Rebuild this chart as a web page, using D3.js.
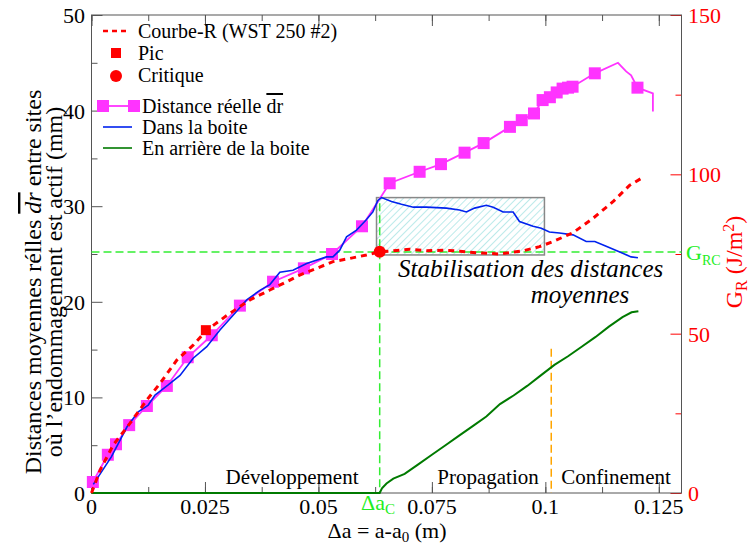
<!DOCTYPE html>
<html>
<head>
<meta charset="utf-8">
<script src="https://cdn.jsdelivr.net/npm/d3@7"></script>
<style>
  body { margin: 0; background: #fff; }
  svg text { font-family: "Liberation Serif", "Times New Roman", Times, "DejaVu Serif", serif; }
</style>
</head>
<body>
<div id="chart"></div>
<script>
// Distance réelle (magenta), left axis (mm)
const distX = [0.0003, 0.0036, 0.0054, 0.0083, 0.0122, 0.0166, 0.0212, 0.0265, 0.0327, 0.0400, 0.0468, 0.0530, 0.0596, 0.0657,
  0.0723, 0.0770, 0.0822, 0.0864, 0.0922, 0.0948, 0.0975, 0.0994, 0.1010, 0.1025, 0.1038, 0.1050, 0.1060, 0.1109, 0.1160, 0.1178, 0.1189, 0.1203, 0.1237, 0.1237];
const distY = [1.15, 4.0, 5.1, 7.1, 9.1, 11.2, 14.2, 16.5, 19.6, 22.1, 23.5, 25.0, 27.9, 32.4,
  33.6, 34.4, 35.6, 36.6, 38.3, 39.0, 39.7, 41.1, 41.4, 41.9, 42.3, 42.4, 42.5, 43.9, 45.0, 44.1, 43.7, 42.4, 41.8, 39.9];
const distMarked = [1,1,1,1,1,1,1,1,1,1,1,1,1,1, 1,1,1,1,1,1,1,1,1,1,1,1,1,1,0,0,0,1,0,0];

// Dans la boite (blue), left axis
const boxX = [0.0004, 0.0044, 0.0078, 0.0103, 0.0125, 0.0140, 0.0169, 0.0195, 0.0224, 0.0254, 0.0283, 0.0312, 0.0342, 0.0371, 0.0393, 0.0415,
  0.0444, 0.0474, 0.0518, 0.0532, 0.0547, 0.0562, 0.0584, 0.0606, 0.0620, 0.0631, 0.0639, 0.0661, 0.0683, 0.0709, 0.0738, 0.0782, 0.0811,
  0.0826, 0.0844, 0.0870, 0.0885, 0.0907, 0.0929, 0.0943, 0.0973, 0.0991, 0.1009, 0.1031, 0.1061, 0.1090, 0.1109, 0.1134, 0.1164, 0.1189, 0.1204];
const boxY = [0.9, 3.8, 6.9, 8.5, 9.2, 10.25, 11.3, 12.3, 14.1, 15.3, 17.05, 18.6, 20.2, 21.2, 21.8, 23.1,
  23.3, 24.0, 24.7, 24.7, 25.4, 26.8, 27.5, 28.6, 29.4, 30.6, 30.9, 30.5, 30.2, 29.9, 29.9, 29.8, 29.6,
  29.4, 29.8, 30.1, 29.9, 29.4, 29.4, 28.4, 27.9, 27.7, 27.3, 27.2, 27.0, 26.3, 26.3, 25.8, 25.2, 24.7, 24.6];

// En arrière de la boite (green), left axis
const behindX = [0, 0.0635, 0.0640, 0.0650, 0.0665, 0.0690, 0.0720, 0.0750, 0.0780, 0.0810, 0.0840, 0.0870, 0.0900, 0.0930,
  0.0960, 0.0990, 0.1020, 0.1050, 0.1080, 0.1110, 0.1140, 0.1170, 0.1190, 0.1205];
const behindY = [0, 0, 0.5, 1.0, 1.5, 2.0, 3.0, 4.0, 5.0, 6.0, 7.0, 8.0, 9.3, 10.2,
  11.2, 12.3, 13.4, 14.3, 15.3, 16.3, 17.4, 18.4, 18.9, 19.0];

// Courbe-R (red dashed), right axis (J/m²)
const curveX = [0, 0.0019, 0.0048, 0.0085, 0.0122, 0.0151, 0.0188, 0.0224, 0.0254, 0.0300, 0.0349, 0.0393, 0.0430, 0.0459, 0.0496,
  0.0532, 0.0569, 0.0606, 0.0635, 0.0664, 0.0701, 0.0738, 0.0775, 0.0811, 0.0848, 0.0899, 0.0951, 0.0987, 0.1017, 0.1061, 0.1105,
  0.1149, 0.1186, 0.1211];
const curveG = [0, 7.2, 15.1, 21.9, 29.2, 34.4, 41.7, 46.4, 51.1, 55.9, 60.6, 63.7, 66.3, 68.4, 70.5,
  72.6, 73.6, 74.7, 75.7, 76.0, 76.5, 76.0, 76.2, 75.9, 75.4, 75.0, 76.0, 77.3, 78.9, 81.7, 86.2,
  91.4, 96.6, 98.7];

const pic = [0.0252, 51.1];
const critique = [0.0635, 75.7];
const gRC = 75.6;          // J/m²
const deltaAC = 0.0635;    // m
const confineStart = 0.1013;
const boxRange = { x: [0.0628, 0.0998], y: [24.9, 30.9] };

const xTicks = [0, 0.025, 0.05, 0.075, 0.1, 0.125];
const xTickLabels = ["0", "0.025", "0.05", "0.075", "0.1", "0.125"];
const yTicks = [0, 10, 20, 30, 40, 50];
const gTicks = [0, 50, 100, 150];
const phases = ["Développement", "Propagation", "Confinement"];

const W = 750, H = 546;
const m = { left: 91.5, right: 681.5, top: 15, bottom: 493 };
const FS = 20;      // legend
const PHASE = 21;   // phase labels
const TICK = 22;    // tick labels
const TITLE = 24;   // axis titles
const NOTE = 25;    // box annotation

const svg = d3.select("#chart").append("svg")
  .attr("width", W).attr("height", H);

const x = d3.scaleLinear().domain([0, 0.13]).range([m.left, m.right]);
const y = d3.scaleLinear().domain([0, 50]).range([m.bottom, m.top]);
const yG = d3.scaleLinear().domain([0, 150]).range([m.bottom, m.top]);

// hatch pattern for the box
const defs = svg.append("defs");
const pat = defs.append("pattern")
  .attr("id", "hatch").attr("patternUnits", "userSpaceOnUse")
  .attr("width", 5).attr("height", 5)
  .attr("patternTransform", "rotate(45)");
pat.append("line").attr("x1", 0).attr("y1", 0).attr("x2", 0).attr("y2", 5)
  .attr("stroke", "#8fdcdc").attr("stroke-width", 1.2);

// axes (ticks inward)
const minorX = d3.range(0, 0.1301, 0.0125);
svg.append("g").attr("transform", `translate(0,${m.bottom})`)
  .call(d3.axisTop(x).tickValues(minorX).tickSize(6).tickFormat(""));
svg.append("g").attr("transform", `translate(0,${m.bottom})`)
  .call(d3.axisTop(x).tickValues(xTicks).tickSize(11).tickFormat(""));
svg.append("g").attr("transform", `translate(0,${m.top})`)
  .call(d3.axisBottom(x).tickValues(minorX).tickSize(6).tickFormat(""));
svg.append("g").attr("transform", `translate(0,${m.top})`)
  .call(d3.axisBottom(x).tickValues(xTicks).tickSize(11).tickFormat(""));
svg.append("g").attr("transform", `translate(${m.left},0)`)
  .call(d3.axisRight(y).tickValues(d3.range(5, 50, 10)).tickSize(6).tickFormat(""));
svg.append("g").attr("transform", `translate(${m.left},0)`)
  .call(d3.axisRight(y).tickValues(yTicks).tickSize(11).tickFormat(""));
const rMinor = svg.append("g").attr("transform", `translate(${m.right},0)`)
  .call(d3.axisLeft(yG).tickValues([25, 75, 125]).tickSize(6).tickFormat(""));
const rMajor = svg.append("g").attr("transform", `translate(${m.right},0)`)
  .call(d3.axisLeft(yG).tickValues(gTicks).tickSize(11).tickFormat(""));
svg.selectAll(".domain").remove();
svg.selectAll(".tick line").attr("stroke", "#555");
rMinor.selectAll(".tick line").attr("stroke", "red");
rMajor.selectAll(".tick line").attr("stroke", "red");

// tick labels
svg.append("g").selectAll("text").data(xTicks).join("text")
  .attr("x", d => x(d)).attr("y", 514).attr("text-anchor", "middle")
  .attr("font-size", TICK).text((d, i) => xTickLabels[i]);
svg.append("g").selectAll("text").data(yTicks).join("text")
  .attr("x", 85).attr("y", d => y(d) + 8).attr("text-anchor", "end")
  .attr("font-size", TICK).text(d => d);
svg.append("g").selectAll("text").data(gTicks).join("text")
  .attr("x", 688).attr("y", d => yG(d) + 8).attr("text-anchor", "start")
  .attr("font-size", TICK).attr("fill", "red").text(d => d);

// frame
svg.append("rect").attr("x", m.left).attr("y", m.top)
  .attr("width", m.right - m.left).attr("height", m.bottom - m.top)
  .attr("fill", "none").attr("stroke", "#555").attr("stroke-width", 1);

// hatched box
svg.append("rect")
  .attr("x", x(boxRange.x[0])).attr("y", y(boxRange.y[1]))
  .attr("width", x(boxRange.x[1]) - x(boxRange.x[0]))
  .attr("height", y(boxRange.y[0]) - y(boxRange.y[1]))
  .attr("fill", "url(#hatch)").attr("stroke", "#888").attr("stroke-width", 1.5);

// reference lines
svg.append("line").attr("x1", m.left).attr("x2", m.right)
  .attr("y1", yG(gRC)).attr("y2", yG(gRC))
  .attr("stroke", "#33ee33").attr("stroke-width", 1.5).attr("stroke-dasharray", "8,4");
svg.append("line").attr("x1", x(deltaAC)).attr("x2", x(deltaAC))
  .attr("y1", y(30.3)).attr("y2", m.bottom)
  .attr("stroke", "#33ee33").attr("stroke-width", 1.5).attr("stroke-dasharray", "8,4");
svg.append("line").attr("x1", x(confineStart)).attr("x2", x(confineStart))
  .attr("y1", y(15.1)).attr("y2", m.bottom)
  .attr("stroke", "#ffa500").attr("stroke-width", 1.5).attr("stroke-dasharray", "8,4");

// series
const lineL = d3.line().x(d => x(d[0])).y(d => y(d[1]));
const lineG = d3.line().x(d => x(d[0])).y(d => yG(d[1]));

svg.append("path").datum(d3.zip(behindX, behindY))
  .attr("d", lineL).attr("fill", "none").attr("stroke", "#007a00").attr("stroke-width", 2);

const dist = d3.zip(distX, distY);
svg.append("path").datum(dist)
  .attr("d", lineL).attr("fill", "none").attr("stroke", "#ff33ff").attr("stroke-width", 1.8);
svg.append("g").selectAll("rect").data(dist.filter((d, i) => distMarked[i])).join("rect")
  .attr("x", d => x(d[0]) - 6).attr("y", d => y(d[1]) - 6)
  .attr("width", 12).attr("height", 12).attr("fill", "#ff33ff");

svg.append("path").datum(d3.zip(boxX, boxY))
  .attr("d", lineL).attr("fill", "none").attr("stroke", "#0022ee").attr("stroke-width", 1.6);

svg.append("path").datum(d3.zip(curveX, curveG))
  .attr("d", lineG).attr("fill", "none").attr("stroke", "red")
  .attr("stroke-width", 3).attr("stroke-dasharray", "6,5");

svg.append("rect").attr("x", x(pic[0]) - 5).attr("y", yG(pic[1]) - 5)
  .attr("width", 10).attr("height", 10).attr("fill", "red");
svg.append("circle").attr("cx", x(critique[0])).attr("cy", yG(critique[1]))
  .attr("r", 6).attr("fill", "red");

// annotations
svg.append("text").attr("x", 398).attr("y", 277).attr("font-size", NOTE)
  .attr("font-style", "italic").text("Stabilisation des distances");
svg.append("text").attr("x", 580).attr("y", 303).attr("font-size", NOTE)
  .attr("font-style", "italic").attr("text-anchor", "middle").text("moyennes");

const phaseX = [292, 488, 616];
svg.append("g").selectAll("text").data(phases).join("text")
  .attr("x", (d, i) => phaseX[i]).attr("y", 484).attr("text-anchor", "middle")
  .attr("font-size", PHASE).text(d => d);

const grcT = svg.append("text").attr("x", 686).attr("y", yG(gRC) + 8)
  .attr("font-size", 22).attr("fill", "#22ee22");
grcT.append("tspan").text("G");
grcT.append("tspan").attr("font-size", 14).attr("dy", 5).text("RC");

const dacT = svg.append("text").attr("x", 378).attr("y", 510)
  .attr("text-anchor", "middle").attr("font-size", TICK).attr("fill", "#22ee22");
dacT.append("tspan").text("Δa");
dacT.append("tspan").attr("font-size", 15).attr("dy", 4).text("C");

// axis titles
const xt = svg.append("text").attr("x", 387).attr("y", 538)
  .attr("text-anchor", "middle").attr("font-size", 22);
xt.append("tspan").text("Δa = a-a");
xt.append("tspan").attr("font-size", 15).attr("dy", 4).text("0");
xt.append("tspan").attr("dy", -4).text(" (m)");

const yt1 = svg.append("text").attr("transform", "translate(41,282) rotate(-90)")
  .attr("text-anchor", "middle").attr("font-size", TITLE);
yt1.append("tspan").text("Distances moyennes rélles ");
yt1.append("tspan").attr("font-style", "italic").style("text-decoration", "overline").text("dr");
yt1.append("tspan").text(" entre sites");
svg.append("text").attr("transform", "translate(62,282) rotate(-90)")
  .attr("text-anchor", "middle").attr("font-size", TITLE)
  .text("où l’endommagement est actif (mm)");

const yt2 = svg.append("text").attr("transform", "translate(742,262) rotate(-90)")
  .attr("text-anchor", "middle").attr("font-size", TITLE).attr("fill", "red");
yt2.append("tspan").text("G");
yt2.append("tspan").attr("font-size", 16).attr("dy", 5).text("R");
yt2.append("tspan").attr("dy", -5).text(" (J/m");
yt2.append("tspan").attr("font-size", 16).attr("dy", -8).text("2");
yt2.append("tspan").attr("dy", 8).text(")");

// legend
const lg = svg.append("g").attr("font-size", FS);
lg.append("line").attr("x1", 103).attr("x2", 128).attr("y1", 31).attr("y2", 31)
  .attr("stroke", "red").attr("stroke-width", 2.5).attr("stroke-dasharray", "5,4");
lg.append("text").attr("x", 138).attr("y", 38).text("Courbe-R (WST 250 #2)");
lg.append("rect").attr("x", 111).attr("y", 48).attr("width", 10).attr("height", 10).attr("fill", "red");
lg.append("text").attr("x", 138).attr("y", 60).text("Pic");
lg.append("circle").attr("cx", 116).attr("cy", 76).attr("r", 6).attr("fill", "red");
lg.append("text").attr("x", 138).attr("y", 82).text("Critique");
lg.append("line").attr("x1", 103).attr("x2", 134).attr("y1", 106).attr("y2", 106)
  .attr("stroke", "#ff33ff").attr("stroke-width", 1.8);
lg.selectAll("rect.lm").data([103, 134]).join("rect").attr("class", "lm")
  .attr("x", d => d - 6).attr("y", 100).attr("width", 12).attr("height", 12).attr("fill", "#ff33ff");
const lt = lg.append("text").attr("x", 142).attr("y", 113);
lt.append("tspan").text("Distance réelle  ");
lt.append("tspan").style("text-decoration", "overline").text("dr");
lg.append("line").attr("x1", 103).attr("x2", 132).attr("y1", 127).attr("y2", 127)
  .attr("stroke", "#0022ee").attr("stroke-width", 1.6);
lg.append("text").attr("x", 142).attr("y", 134).text("Dans la boite");
lg.append("line").attr("x1", 103).attr("x2", 132).attr("y1", 148).attr("y2", 148)
  .attr("stroke", "#007a00").attr("stroke-width", 1.6);
lg.append("text").attr("x", 142).attr("y", 155).text("En arrière de la boite");
</script>
</body>
</html>
